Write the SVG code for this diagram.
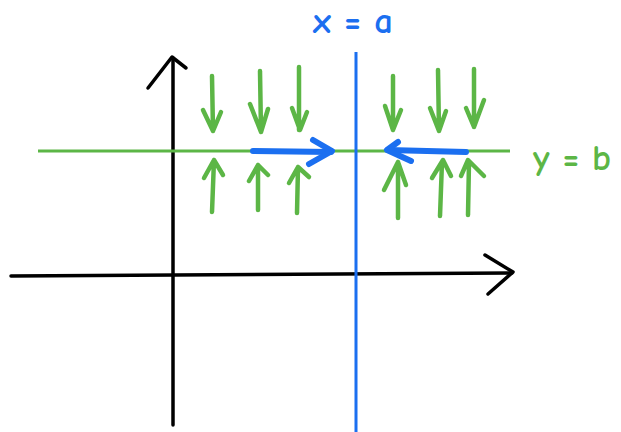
<svg xmlns="http://www.w3.org/2000/svg" width="621" height="432" viewBox="0 0 621 432">
<style>
.ax{stroke:#000;stroke-width:3.5;fill:none;stroke-linecap:round;stroke-linejoin:round}
.g{stroke:#5cb646;stroke-width:4.5;fill:none;stroke-linecap:round;stroke-linejoin:round}
.gl{stroke:#5cb646;stroke-width:3;fill:none}
.b{stroke:#1b6ff0;stroke-width:6;fill:none;stroke-linecap:round;stroke-linejoin:round}
.bl{stroke:#1b6ff0;stroke-width:3;fill:none}
.lbl{font-family:"Comic Neue","DejaVu Sans",sans-serif;font-size:36px;font-weight:bold}
</style>
<rect width="621" height="432" fill="#fff"/>
<g id="axes">
<path class="ax" d="M173 425 L173 58"/>
<path class="ax" d="M148 88 L172 57 L186 68"/>
<path class="ax" d="M11 276 L512 273"/>
<path class="ax" d="M485 255 L513 272 L488 294"/>
</g>
<g id="line-y-b">
<path class="gl" d="M38 151 L510 151"/>
<text class="lbl" x="533" y="170" fill="#5cb646" textLength="78" lengthAdjust="spacingAndGlyphs">y = b</text>
</g>
<g id="line-x-a">
<path class="bl" d="M356 52 L356 432"/>
<text class="lbl" x="313" y="33" fill="#1b6ff0" textLength="80" lengthAdjust="spacingAndGlyphs">x = a</text>
</g>
<g id="connectors">
<g id="down-arrows">
<path class="g" d="M212 76 L213 131 M203 110 L213 131 L221 112"/>
<path class="g" d="M260 71 L261 132 M250 104 L261 132 L268 109"/>
<path class="g" d="M299 67 L299 130 M292 108 L300 130 L307 112"/>
<path class="g" d="M393 76 L393 130 M385 106 L393 130 L401 110"/>
<path class="g" d="M438 70 L439 131 M430 108 L439 131 L446 111"/>
<path class="g" d="M474 69 L474 127 M466 108 L474 127 L484 100"/>
</g>
<g id="up-arrows">
<path class="g" d="M212 212 L214 160 M204 178 L214 160 L223 175"/>
<path class="g" d="M258 210 L258 165 M249 181 L258 165 L268 175"/>
<path class="g" d="M297 213 L298 167 M289 183 L298 167 L309 177"/>
<path class="g" d="M398 218 L398 162 M384 190 L398 162 L406 185"/>
<path class="g" d="M440 216 L442 162 M432 178 L443 160 L451 176"/>
<path class="g" d="M468 215 L469 162 M461 176 L468 160 L484 176"/>
</g>
<g id="flow-arrows">
<path class="b" d="M253 151 L331 152"/>
<path class="b" d="M313 140 L332 151 L309 164"/>
<path class="b" d="M466 152 L388 150"/>
<path class="b" d="M398 142 L387 150 L411 161"/>
</g>
</g>
</svg>
